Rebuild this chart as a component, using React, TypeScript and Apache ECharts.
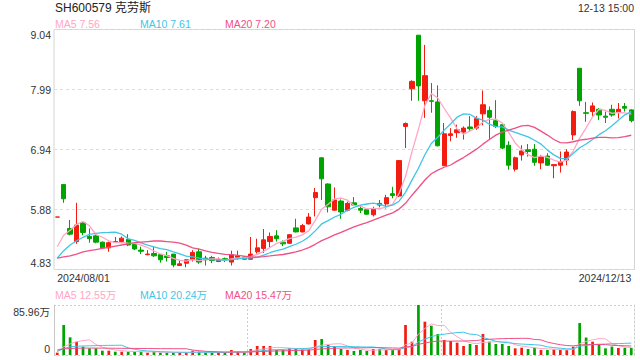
import React, { useEffect, useRef } from "react";
import * as echarts from "echarts";

// ---- categories (trading days) ----
const augDays = ["01","02","05","06","07","08","09","12","13","14","15","16","19","20","21","22","23","26","27","28","29","30"];
const sepDays = ["02","03","04","05","06","09","10","11","12","13","18","19","20","23","24","25","26","27","30"];
const octDays = ["08","09","10","11","14","15","16","17","18","21","22","23","24","25","28","29","30","31"];
const novDays = ["01","04","05","06","07","08","11","12","13","14","15","18","19","20","21","22","25","26","27","28","29"];
const decDays = ["02","03","04","05","06","09","10","11","12","13"];
const categories = [
  ...augDays.map((d) => `2024/08/${d}`),
  ...sepDays.map((d) => `2024/09/${d}`),
  ...octDays.map((d) => `2024/10/${d}`),
  ...novDays.map((d) => `2024/11/${d}`),
  ...decDays.map((d) => `2024/12/${d}`),
];

// ---- price data ----
const opens = [
  5.75, 6.32, 5.55, 5.32, 5.65, 5.41, 5.42, 5.31, 5.21, 5.32,
  5.32, 5.36, 5.27, 5.17, 5.09, 5.11, 5.09, 5.07, 5.10, 4.90,
  4.94, 5.01, 5.14, 5.03, 5.04, 4.97, 5.02, 4.96, 5.04, 5.05,
  5.01, 5.14, 5.20, 5.32, 5.42, 5.31, 5.29, 5.56, 5.49, 5.63,
  6.09, 6.79, 6.33, 5.87, 6.03, 5.87, 6.00, 5.90, 5.88, 5.79,
  5.99, 5.98, 6.16, 6.12, 7.34, 8.00, 8.94, 7.79, 7.79, 7.77,
  6.65, 7.18, 7.23, 7.24, 7.33, 7.31, 7.56, 7.62, 7.44, 7.37,
  7.01, 6.59, 6.84, 6.93, 6.94, 6.70, 6.82, 6.65, 6.66, 6.75,
  7.19, 8.36, 7.58, 7.60, 7.64, 7.52, 7.64, 7.59, 7.69, 7.63,
];
const closes = [
  5.75, 6.07, 5.45, 5.61, 5.48, 5.37, 5.31, 5.21, 5.30, 5.31,
  5.38, 5.26, 5.19, 5.15, 5.10, 5.07, 5.00, 5.04, 4.91, 4.93,
  5.00, 5.13, 4.96, 5.00, 4.99, 5.01, 5.00, 5.09, 5.07, 5.01,
  5.10, 5.21, 5.35, 5.41, 5.37, 5.28, 5.44, 5.49, 5.60, 5.75,
  6.18, 6.42, 5.93, 6.05, 5.84, 5.99, 5.96, 5.87, 5.80, 5.90,
  5.96, 6.09, 6.13, 6.74, 7.39, 8.13, 8.05, 8.23, 7.78, 7.00,
  7.21, 7.21, 7.28, 7.31, 7.30, 7.48, 7.72, 7.50, 7.34, 6.96,
  6.66, 6.79, 6.91, 6.90, 6.71, 6.81, 6.66, 6.67, 6.72, 6.89,
  7.60, 7.79, 7.57, 7.70, 7.54, 7.50, 7.54, 7.64, 7.66, 7.44,
];
const lows = [
  5.75, 6.00, 5.43, 5.28, 5.43, 5.30, 5.29, 5.19, 5.14, 5.30,
  5.29, 5.24, 5.17, 5.10, 5.08, 5.05, 4.95, 4.97, 4.87, 4.89,
  4.87, 4.97, 4.93, 4.90, 4.94, 4.96, 4.96, 4.90, 5.00, 5.00,
  5.00, 5.11, 5.12, 5.22, 5.32, 5.24, 5.28, 5.48, 5.48, 5.62,
  5.76, 6.05, 5.83, 5.86, 5.72, 5.85, 5.95, 5.82, 5.79, 5.76,
  5.92, 5.90, 6.08, 6.10, 6.96, 7.79, 7.79, 7.49, 7.58, 6.99,
  6.65, 7.08, 7.14, 7.11, 7.25, 7.28, 7.36, 7.10, 7.31, 6.94,
  6.58, 6.55, 6.74, 6.81, 6.65, 6.59, 6.65, 6.43, 6.53, 6.66,
  7.10, 7.70, 7.42, 7.51, 7.45, 7.40, 7.51, 7.48, 7.60, 7.41,
];
const highs = [
  5.75, 6.32, 5.70, 6.00, 5.66, 5.55, 5.44, 5.32, 5.32, 5.40,
  5.41, 5.45, 5.28, 5.23, 5.17, 5.23, 5.09, 5.14, 5.10, 5.00,
  5.01, 5.17, 5.20, 5.07, 5.07, 5.04, 5.04, 5.16, 5.16, 5.06,
  5.40, 5.37, 5.54, 5.48, 5.52, 5.34, 5.45, 5.72, 5.63, 5.82,
  6.26, 6.80, 6.34, 6.27, 6.06, 6.02, 6.10, 5.96, 5.89, 5.93,
  6.05, 6.14, 6.28, 6.75, 7.41, 8.15, 8.94, 8.77, 8.10, 8.06,
  7.40, 7.31, 7.37, 7.34, 7.52, 7.52, 7.97, 7.69, 7.80, 7.38,
  7.08, 6.81, 7.01, 7.03, 7.03, 6.84, 6.87, 6.67, 6.90, 6.94,
  7.62, 8.36, 7.77, 7.76, 7.66, 7.60, 7.72, 7.75, 7.75, 7.64,
];

// ---- volume data (万) ----
const volumes = [
  4.0, 51.6, 30.4, 22.9, 14.3, 11.5, 11.5, 7.4, 7.4, 5.7,
  5.7, 5.7, 5.7, 5.7, 4.0, 5.7, 4.0, 4.0, 4.0, 4.0,
  4.0, 7.4, 5.7, 4.0, 4.0, 4.0, 4.0, 8.6, 5.7, 4.0,
  10.3, 15.5, 15.5, 15.5, 8.6, 8.6, 11.5, 11.5, 9.7, 9.7,
  25.8, 27.5, 17.2, 15.5, 10.3, 8.6, 6.9, 8.6, 6.9, 10.3,
  10.3, 8.6, 8.6, 10.3, 51.6, 22.9, 85.96, 57.3, 50.4, 36.1,
  25.8, 24.1, 21.2, 15.5, 18.9, 17.2, 36.1, 22.9, 18.9, 18.9,
  15.5, 11.5, 12.6, 10.3, 12.6, 8.6, 8.6, 9.7, 8.6, 8.6,
  14.3, 55.0, 30.0, 22.9, 18.9, 11.5, 14.5, 12.0, 12.5, 12.3,
];

const ma5Head = [5.23, 5.43, 5.52, 5.62];
const ma10Head = [5.03, 5.16, 5.26, 5.335, 5.395, 5.447, 5.465, 5.476, 5.48];
const ma20Head = [5.03, 5.05, 5.07, 5.10, 5.14, 5.16, 5.18, 5.20, 5.22, 5.24, 5.26, 5.28, 5.30, 5.31, 5.32, 5.33, 5.33, 5.32, 5.31];
const vMa5Head = [6.5, 14.1, 19.2, 22.8];
const vMa10Head = [6.0, 11.0, 14.0, 15.0, 15.5, 15.8, 16.1, 16.4, 16.6];
const vMa20Head = [8.6, 10.5, 11.2, 11.6, 11.8, 11.9, 11.9, 11.8, 11.7, 11.6, 11.5, 11.4, 11.3, 11.2, 11.1, 11.0, 10.9, 10.9, 10.8];

// ---- tick labels / texts ----
const yTickLabels = ["4.83", "5.88", "6.94", "7.99", "9.04"];
const priceMin = 4.83;
const priceMax = 9.04;
const titleText = "SH600579 克劳斯";
const timeText = "12-13 15:00";
const priceLegend = ["MA5 7.56", "MA10 7.61", "MA20 7.20"];
const volLegend = ["MA5 12.55万", "MA10 20.24万", "MA20 15.47万"];

const UP = "#f21c10";
const DOWN = "#00a400";
const C_MA5 = "#ffa6c5";
const C_MA10 = "#3fc6e6";
const C_MA20 = "#ef5085";
const FONT = 'Arial, "Liberation Sans", "Noto Sans CJK SC", sans-serif';

function movingAverage(values: number[], n: number, head: number[]) {
  return values.map((_, i) => {
    if (i < n - 1) return head[i];
    let s = 0;
    for (let k = i - n + 1; k <= i; k++) s += values[k];
    return +(s / n).toFixed(4);
  });
}

export default function App() {
  const ref = useRef<HTMLDivElement>(null);

  useEffect(() => {
    if (!ref.current) return;
    const chart = echarts.init(ref.current, null, { renderer: "svg" });

    const candleData = opens.map((o, i) => [o, closes[i], lows[i], highs[i]]);
    const volData = volumes.map((v, i) => ({
      value: v,
      itemStyle: { color: closes[i] >= opens[i] ? UP : DOWN },
    }));
    const maxVol = Math.max(...volumes);

    const gridLeft = 54;
    const gridWidth = 580.5;

    const lineSeries = (name: string, data: number[], color: string, xi: number, yi: number, w: number) => ({
      name,
      type: "line",
      data,
      xAxisIndex: xi,
      yAxisIndex: yi,
      symbol: "none",
      smooth: false,
      lineStyle: { color, width: w },
      itemStyle: { color },
      silent: true,
    });

    const legendText = (x: number, y: number, text: string, fill: string) => ({
      type: "text",
      x,
      y,
      silent: true,
      style: { text, fill, font: `10.5px ${FONT}`, textVerticalAlign: "middle", verticalAlign: "middle" },
    });

    chart.setOption({
      animation: false,
      backgroundColor: "#ffffff",
      grid: [
        { left: gridLeft, top: 29.5, width: gridWidth, height: 240, show: true, borderColor: "#d4d4d4", borderWidth: 1 },
        { left: gridLeft, top: 305, width: gridWidth, height: 50, show: false },
      ],
      xAxis: [
        {
          type: "category", gridIndex: 0, data: categories, position: "bottom", boundaryGap: true,
          axisLine: { show: false }, axisTick: { show: false }, splitLine: { show: false },
          axisLabel: { interval: (i: number) => i === 0, align: "left", margin: 3, color: "#333", fontSize: 10.5, fontFamily: FONT },
        },
        {
          type: "category", gridIndex: 0, data: categories, position: "bottom", boundaryGap: true,
          axisLine: { show: false }, axisTick: { show: false }, splitLine: { show: false },
          axisLabel: { interval: (i: number) => i === categories.length - 1, align: "right", margin: 3, color: "#333", fontSize: 10.5, fontFamily: FONT },
        },
        {
          type: "category", gridIndex: 1, data: categories, boundaryGap: true,
          axisLine: { show: false }, axisTick: { show: false }, axisLabel: { show: false },
          splitLine: {
            show: true,
            interval: (i: number) => i === 30 || i === 60,
            lineStyle: { color: "#cccccc", type: [2, 2], width: 1 },
          },
        },
      ],
      yAxis: [
        { type: "value", gridIndex: 0, min: priceMin, max: priceMax, position: "right", show: false, scale: true },
        {
          type: "value", gridIndex: 0, min: 0, max: yTickLabels.length - 1, interval: 1, position: "left",
          axisLine: { show: false }, axisTick: { show: false },
          splitLine: { show: true, lineStyle: { color: "#dcdcdc", type: [3, 3], width: 1 } },
          axisLabel: {
            margin: 3, color: "#333", fontSize: 10.5, fontFamily: FONT,
            formatter: (v: number) => {
              const i = Math.round(v);
              const t = yTickLabels[i];
              if (i === 0) return `{lo|${t}}`;
              if (i === yTickLabels.length - 1) return `{hi|${t}}`;
              return `{md|${t}}`;
            },
            rich: {
              lo: { padding: [0, 0, 13, 0], color: "#333", fontSize: 10.5, fontFamily: FONT },
              hi: { padding: [11, 0, 0, 0], color: "#333", fontSize: 10.5, fontFamily: FONT },
              md: { color: "#333", fontSize: 10.5, fontFamily: FONT },
            },
          },
        },
        { type: "value", gridIndex: 1, min: 0, max: maxVol, position: "right", show: false },
        {
          type: "value", gridIndex: 1, min: 0, max: 1, interval: 1, position: "left",
          axisLine: { show: true, lineStyle: { color: "#c8c8c8", width: 1 } },
          axisTick: { show: false },
          splitLine: { show: true, lineStyle: { color: "#cccccc", type: [2, 2], width: 1 } },
          axisLabel: {
            margin: 4, color: "#333", fontSize: 10.5, fontFamily: FONT,
            formatter: (v: number) => (v >= 1 ? `{hi|${maxVol.toFixed(2)}万}` : `{lo|0}`),
            rich: {
              lo: { padding: [0, 0, 13, 0], color: "#333", fontSize: 10.5, fontFamily: FONT },
              hi: { padding: [13, 0, 0, 0], color: "#333", fontSize: 10.5, fontFamily: FONT },
            },
          },
        },
        {
          type: "value", gridIndex: 1, min: 0, max: 1, position: "right", offset: 0,
          axisLine: { show: true, lineStyle: { color: "#cccccc", type: [2, 2], width: 1 } },
          axisTick: { show: false }, axisLabel: { show: false }, splitLine: { show: false },
        },
      ],
      series: [
        {
          name: "K",
          type: "candlestick",
          xAxisIndex: 0,
          yAxisIndex: 0,
          data: candleData,
          barWidth: "74%",
          silent: true,
          itemStyle: {
            color: UP, color0: DOWN, borderColor: UP, borderColor0: DOWN, borderColorDoji: UP, borderWidth: 1,
          },
        },
        lineSeries("MA5", movingAverage(closes, 5, ma5Head), C_MA5, 0, 0, 1.3),
        lineSeries("MA10", movingAverage(closes, 10, ma10Head), C_MA10, 0, 0, 1.3),
        lineSeries("MA20", movingAverage(closes, 20, ma20Head), C_MA20, 0, 0, 1.3),
        {
          name: "VOL",
          type: "bar",
          xAxisIndex: 2,
          yAxisIndex: 2,
          data: volData,
          barWidth: "42%",
          silent: true,
        },
        lineSeries("VMA5", movingAverage(volumes, 5, vMa5Head), C_MA5, 2, 2, 1),
        lineSeries("VMA10", movingAverage(volumes, 10, vMa10Head), C_MA10, 2, 2, 1),
        lineSeries("VMA20", movingAverage(volumes, 20, vMa20Head), C_MA20, 2, 2, 1),
      ],
      graphic: [
        {
          type: "text", x: 55, y: 8, silent: true,
          style: { text: titleText, fill: "#222", font: `12px ${FONT}`, textVerticalAlign: "middle", verticalAlign: "middle" },
        },
        {
          type: "text", x: 634, y: 8, silent: true,
          style: { text: timeText, fill: "#333", font: `10.5px ${FONT}`, textAlign: "right", align: "right", textVerticalAlign: "middle", verticalAlign: "middle" },
        },
        legendText(55, 24, priceLegend[0], C_MA5),
        legendText(140, 24, priceLegend[1], C_MA10),
        legendText(225, 24, priceLegend[2], C_MA20),
        legendText(55, 295, volLegend[0], C_MA5),
        legendText(140, 295, volLegend[1], C_MA10),
        legendText(225, 295, volLegend[2], C_MA20),
      ],
    });

    return () => chart.dispose();
  }, []);

  return <div ref={ref} style={{ width: 640, height: 360, position: "absolute", left: 0, top: 0 }} />;
}
